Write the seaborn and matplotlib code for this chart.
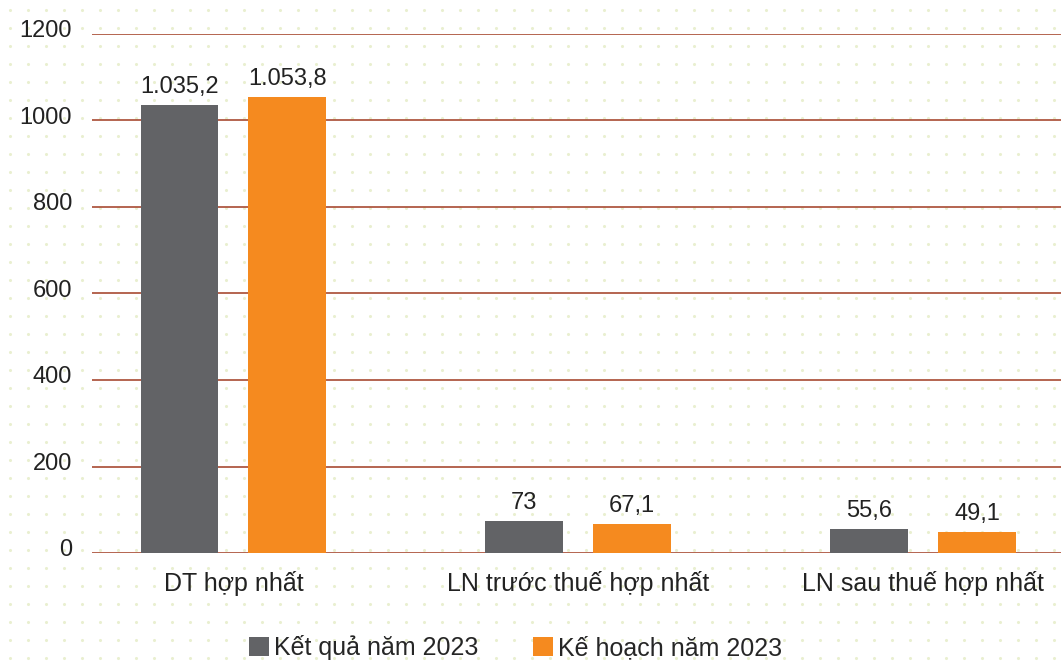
import numpy as np
import pandas as pd
import matplotlib
matplotlib.use("Agg")
import matplotlib.pyplot as plt
import matplotlib.transforms as mtransforms
import seaborn as sns

categories = ["DT hợp nhất", "LN trước thuế hợp nhất", "LN sau thuế hợp nhất"]
series_names = ["Kết quả năm 2023", "Kế hoạch năm 2023"]
ket_qua = [1035.2, 73, 55.6]
ke_hoach = [1053.8, 67.1, 49.1]
ket_qua_labels = ["1.035,2", "73", "55,6"]
ke_hoach_labels = ["1.053,8", "67,1", "49,1"]
yticks = [0, 200, 400, 600, 800, 1000, 1200]

sns.set_theme(style="white")
plt.rcParams["font.family"] = ["Liberation Sans", "DejaVu Sans"]

df = pd.DataFrame({
    "cat": categories * 2,
    "series": [series_names[0]] * 3 + [series_names[1]] * 3,
    "value": ket_qua + ke_hoach,
})

W, H = 1061, 668
fig = plt.figure(figsize=(W / 100, H / 100), dpi=100)
fig.patch.set_facecolor("white")

# dotted background
bg = fig.add_axes([0, 0, 1, 1], zorder=-1)
xs = np.arange(10, W, 18)
ys = np.arange(10, H, 18)
gx, gy = np.meshgrid(xs, ys)
bg.scatter(gx.ravel(), gy.ravel(), s=5, color="#e9efd0", linewidths=0)
bg.set_xlim(0, W)
bg.set_ylim(H, 0)
bg.axis("off")

ax = fig.add_axes([92 / W, 1 - 553 / H, 1 - 92 / W, (553 - 34) / H])
ax.set_facecolor("none")

palette = {series_names[0]: "#626366", series_names[1]: "#f58a1f"}
sns.barplot(data=df, x="cat", y="value", hue="series", palette=palette,
            width=0.626, gap=0.28, saturation=1, linewidth=0, ax=ax,
            zorder=3, legend=True)

ax.set_ylim(0, 1200)
ax.set_xlim(-0.41, 2.40)
ax.set_yticks(yticks)
ax.set_yticklabels([str(t) for t in yticks], fontsize=17, color="#222222")
ax.tick_params(axis="y", length=0, pad=14.4)
ax.tick_params(axis="x", length=0, pad=13, labelsize=18, labelcolor="#222222")
offset = mtransforms.ScaledTranslation(0, 5 / 100, fig.dpi_scale_trans)
for lab in ax.get_yticklabels():
    lab.set_transform(lab.get_transform() + offset)
for t in yticks:
    ax.axhline(t, color="#a84a32", lw=1.2, zorder=1)
for s in ax.spines.values():
    s.set_visible(False)
ax.set_xlabel("")
ax.set_ylabel("")

for cont, labs in zip(ax.containers, [ket_qua_labels, ke_hoach_labels]):
    ax.bar_label(cont, labels=labs, padding=5, fontsize=17, color="#222222")

leg = ax.get_legend()
if leg is not None:
    leg.remove()
handles, labels = ax.get_legend_handles_labels()
fig.legend(handles, labels, loc="lower center", bbox_to_anchor=(0.486, -0.022),
           ncol=2, frameon=False, fontsize=18, handlelength=0.8, handleheight=0.8,
           handletextpad=0.2, columnspacing=2.2)

fig.savefig("out.png", dpi=100)
